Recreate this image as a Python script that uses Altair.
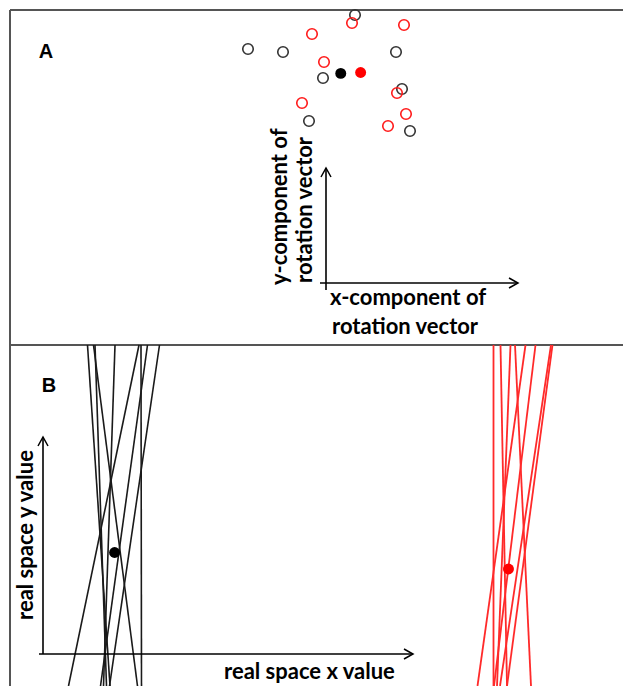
import altair as alt
import pandas as pd

# ---------------- Panel A: rotation-vector components ----------------
black_rx = [0.58, -1.56, -0.86, 1.40, -0.06, 1.52, -0.34, 1.68]
black_ry = [5.36, 4.68, 4.62, 4.62, 4.10, 3.88, 3.24, 3.04]
red_rx = [0.52, 1.56, -0.28, -0.04, -0.48, 1.42, 1.60, 1.24]
red_ry = [5.20, 5.16, 4.98, 4.42, 3.60, 3.80, 3.38, 3.14]

# ---------------- Panel B: lines in real space ----------------
line_y_top = 6.18
line_y_bottom = -0.64
black_x_top = [0.89, 1.01, 1.04, 1.44, 1.92, 1.96, 2.09, 2.33]
black_x_bottom = [1.34, 1.89, 1.27, 1.21, 0.51, 1.97, 1.15, 1.33]
red_x_top = [9.01, 9.15, 9.35, 9.44, 9.65, 9.85, 10.16, 10.19]
red_x_bottom = [9.01, 9.28, 9.08, 9.76, 8.69, 9.02, 9.14, 9.28]
mean_point_y = {"black": 2.03, "red": 1.70}

groups = ["black", "red"]
open_col = {"black": "#333333", "red": "#ff1a1a"}
dot_col = {"black": "#000000", "red": "#ff0000"}
line_col = {"black": "#1a1a1a", "red": "#ff2a2a"}
line_w = {"black": 1.6, "red": 1.8}

# build tables
pts = pd.DataFrame(
    {
        "x": black_rx + red_rx,
        "y": black_ry + red_ry,
        "grp": ["black"] * len(black_rx) + ["red"] * len(red_rx),
    }
)
pts["oc"] = pts["grp"].map(open_col)
pts["dc"] = pts["grp"].map(dot_col)

lines = pd.DataFrame(
    {
        "x": black_x_top + red_x_top,
        "x2": black_x_bottom + red_x_bottom,
        "grp": ["black"] * len(black_x_top) + ["red"] * len(red_x_top),
    }
)
lines["y"] = line_y_top
lines["y2"] = line_y_bottom
lines["lc"] = lines["grp"].map(line_col)
lines["lw"] = lines["grp"].map(line_w)

mp = []
for g in groups:
    sub = lines[lines.grp == g]
    yv = mean_point_y[g]
    t = (line_y_top - yv) / (line_y_top - line_y_bottom)
    xv = (sub["x"] + (sub["x2"] - sub["x"]) * t).mean()
    mp.append({"x": xv, "y": yv, "dc": dot_col[g]})
means_b = pd.DataFrame(mp)

# arrows (axes sketches)
arrowsA = pd.DataFrame({"x": [-0.12, 0.0], "y": [0.0, -0.14], "x2": [3.84, 0.0], "y2": [0.0, 2.30], "ang": [0, 270]})
arrowsB = pd.DataFrame({"x": [-0.08, 0.0], "y": [0.0, 0.0], "x2": [7.40, 0.0], "y2": [0.0, 4.34], "ang": [0, 270]})

W = 613
H = 676
SEP = 335  # panel A height
CHEV = "M-1.8,-1L0,0L-1.8,1"
LABEL_FONT = "Lato"
FRAME = "#555555"

# panel A occupies the top 335 px, panel B the rest; same unit size
xA = alt.Scale(domain=[-6.32, 5.94], nice=False, zero=False)
yA = alt.Scale(domain=[-8.06, 5.46], nice=False, zero=False)
xB = alt.Scale(domain=[-0.66, 11.60], nice=False, zero=False)
yB = alt.Scale(domain=[-0.64, 12.88], nice=False, zero=False)

one = pd.DataFrame({"k": [0]})
frame = [
    alt.Chart(one).mark_rule(color=FRAME, strokeWidth=2).encode(x=alt.value(0), y=alt.value(0), y2=alt.value(H)),
    alt.Chart(one).mark_rule(color=FRAME, strokeWidth=2).encode(x=alt.value(0), x2=alt.value(W), y=alt.value(0)),
    alt.Chart(one).mark_rule(color=FRAME, strokeWidth=2).encode(x=alt.value(0), x2=alt.value(W), y=alt.value(SEP)),
]


def arrows(df, xs, ys):
    shaft = alt.Chart(df).mark_rule(color="#000000", strokeWidth=1.6).encode(
        x=alt.X("x:Q", scale=xs, axis=None),
        y=alt.Y("y:Q", scale=ys, axis=None),
        x2="x2:Q",
        y2="y2:Q",
    )
    head = alt.Chart(df).mark_point(
        shape=CHEV, filled=False, size=100, strokeWidth=1.5, color="#000000", opacity=1
    ).encode(
        x=alt.X("x2:Q", scale=xs, axis=None),
        y=alt.Y("y2:Q", scale=ys, axis=None),
        angle=alt.Angle("ang:Q", scale=None),
    )
    return [shaft, head]


def label(text, x, y, xs, ys, angle=0, align="left", size=22, font=LABEL_FONT):
    df = pd.DataFrame({"t": [text]})
    return alt.Chart(df).mark_text(
        font=font, fontSize=size, fontWeight="bold", color="#000000",
        align=align, baseline="middle", angle=angle,
    ).encode(
        x=alt.XDatum(x, scale=xs, type="quantitative", axis=None),
        y=alt.YDatum(y, scale=ys, type="quantitative", axis=None),
        text="t:N",
    )


# ---------------- Panel A ----------------
open_pts = alt.Chart(pts).mark_point(shape="circle", filled=False, size=110, strokeWidth=1.6, opacity=1).encode(
    x=alt.X("x:Q", scale=xA, axis=None),
    y=alt.Y("y:Q", scale=yA, axis=None),
    color=alt.Color("oc:N", scale=None),
)
mean_pts = alt.Chart(pts).transform_aggregate(
    x="mean(x)", y="mean(y)", groupby=["grp", "dc"]
).mark_circle(size=120, opacity=1).encode(
    x=alt.X("x:Q", scale=xA, axis=None),
    y=alt.Y("y:Q", scale=yA, axis=None),
    color=alt.Color("dc:N", scale=None),
)
layersA = [
    *arrows(arrowsA, xA, yA),
    open_pts,
    mean_pts,
    label("A", -5.6, 4.62, xA, yA, align="center", size=20, font="Liberation Sans"),
    label("x-component of", 0.08, -0.30, xA, yA),
    label("rotation vector", 0.12, -0.88, xA, yA),
    label("y-component of", -0.92, -0.04, xA, yA, angle=270),
    label("rotation vector", -0.42, 0.0, xA, yA, angle=270),
]

# ---------------- Panel B ----------------
line_marks = alt.Chart(lines).mark_rule().encode(
    x=alt.X("x:Q", scale=xB, axis=None),
    y=alt.Y("y:Q", scale=yB, axis=None),
    x2="x2:Q",
    y2="y2:Q",
    color=alt.Color("lc:N", scale=None),
    strokeWidth=alt.StrokeWidth("lw:Q", scale=None),
)
mean_b = alt.Chart(means_b).mark_circle(size=120, opacity=1).encode(
    x=alt.X("x:Q", scale=xB, axis=None),
    y=alt.Y("y:Q", scale=yB, axis=None),
    color=alt.Color("dc:N", scale=None),
)
layersB = [
    line_marks,
    *arrows(arrowsB, xB, yB),
    mean_b,
    label("B", 0.12, 5.36, xB, yB, align="center", size=20, font="Liberation Sans"),
    label("real space x value", 3.62, -0.36, xB, yB),
    label("real space y value", -0.34, 0.68, xB, yB, angle=270),
]

chart = (
    alt.layer(*frame, *layersA, *layersB)
    .resolve_scale(x="independent", y="independent")
    .properties(
        width=W,
        height=H,
        padding={"left": 2, "top": 2, "right": 0, "bottom": 0},
        autosize=alt.AutoSizeParams(type="none"),
    )
    .configure_view(stroke=None)
)

chart.save("out.html", embed_options={"renderer": "svg", "actions": False})
